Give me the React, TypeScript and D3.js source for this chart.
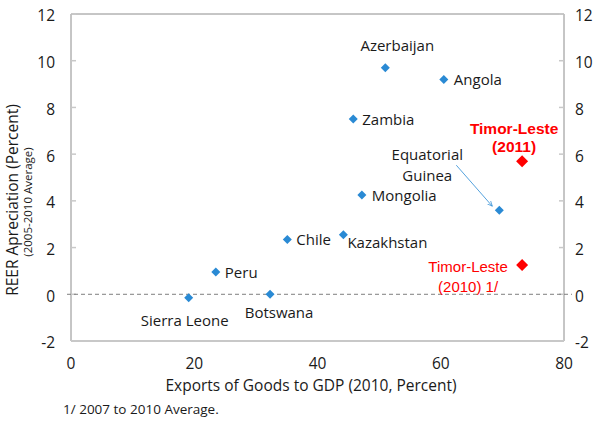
import React from "react";
import * as d3 from "d3";

const countries = ["Azerbaijan", "Angola", "Zambia", "Mongolia", "Equatorial Guinea", "Kazakhstan", "Chile", "Peru", "Sierra Leone", "Botswana"];
const exportsGdp = [51.0, 60.5, 45.8, 47.2, 69.5, 44.2, 35.1, 23.5, 19.1, 32.3];
const reerAppr = [9.7, 9.2, 7.5, 4.25, 3.6, 2.55, 2.35, 0.95, -0.15, 0.0];

const timorX = [73.2, 73.2];
const timorY = [5.7, 1.25];

const xTicks = [0, 20, 40, 60, 80];
const yTicks = [-2, 0, 2, 4, 6, 8, 10, 12];

const W = 595, H = 423;
const ML = 71, MR = 564, MT = 14, MB = 341;

const x = d3.scaleLinear().domain([0, 80]).range([ML, MR]);
const y = d3.scaleLinear().domain([-2, 12]).range([MB, MT]);

const diamond = (cx: number, cy: number, r: number) =>
  `M${cx},${cy - r}L${cx + r},${cy}L${cx},${cy + r}L${cx - r},${cy}Z`;

const labelPos: Record<string, [number, number, string]> = {
  Azerbaijan: [12, -17, "middle"],
  Angola: [10, 6, "start"],
  Zambia: [9, 6, "start"],
  Mongolia: [10, 6, "start"],
  Kazakhstan: [4, 13, "start"],
  Chile: [9, 6, "start"],
  Peru: [9, 6, "start"],
  "Sierra Leone": [-4, 28, "middle"],
  Botswana: [9, 24, "middle"],
};

const font = "'Open Sans', 'Noto Sans', sans-serif";
const arial = "'Liberation Sans', Arial, sans-serif";

export default function App() {
  const eqIdx = countries.indexOf("Equatorial Guinea");
  const eqX = x(exportsGdp[eqIdx]);
  const eqY = y(reerAppr[eqIdx]);
  return (
    <svg width={W} height={H} style={{ position: "absolute", left: 0, top: 0, background: "#fff" }} fontFamily={font}>
      <defs>
        <marker id="arr" viewBox="0 0 10 10" refX="9" refY="5" markerWidth="7" markerHeight="7" orient="auto">
          <path d="M0,1 L9,5 L0,9" fill="none" stroke="#2a8ad4" strokeWidth="1.2" />
        </marker>
      </defs>
      <line x1={ML} x2={ML} y1={MT} y2={MB} stroke="#8c8c8c" strokeWidth={1} />
      <line x1={MR} x2={MR} y1={MT} y2={MB} stroke="#8c8c8c" strokeWidth={1} />
      <line x1={ML} x2={MR} y1={MT} y2={MT} stroke="#8c8c8c" strokeWidth={1} />
      <line x1={ML} x2={MR} y1={MB} y2={MB} stroke="#c8c8c8" strokeWidth={2} />
      {yTicks.map((t) => (
        <g key={t}>
          <line x1={ML} x2={ML + 5} y1={y(t)} y2={y(t)} stroke="#c8c8c8" strokeWidth={1.5} />
          <line x1={MR - 5} x2={MR} y1={y(t)} y2={y(t)} stroke="#c8c8c8" strokeWidth={1.5} />
          <text x={55} y={y(t) + 2} dy="0.35em" textAnchor="end" fontSize={15.5} fill="#1a1a1a">{t}</text>
          <text x={575} y={y(t) + 2} dy="0.35em" textAnchor="start" fontSize={15.5} fill="#1a1a1a">{t}</text>
        </g>
      ))}
      {xTicks.map((t) => (
        <text key={t} x={x(t)} y={369} textAnchor="middle" fontSize={15.5} fill="#1a1a1a">{t}</text>
      ))}
      <line x1={ML - 4} x2={MR + 8} y1={y(0)} y2={y(0)} stroke="#7f7f7f" strokeWidth={1} strokeDasharray="4,3" />
      <text transform={`translate(18,200) rotate(-90)`} textAnchor="middle" fontSize={15.5} fill="#1a1a1a">REER Apreciation (Percent)</text>
      <text transform={`translate(32,202) rotate(-90)`} textAnchor="middle" fontSize={11.5} fill="#1a1a1a">(2005-2010 Average)</text>
      <text x={311} y={391} textAnchor="middle" fontSize={15.5} fill="#1a1a1a">Exports of Goods to GDP (2010, Percent)</text>
      <text x={63} y={414} fontSize={13.5} fill="#1a1a1a">1/ 2007 to 2010 Average.</text>
      {countries.map((c, i) => (
        <path key={c} d={diamond(x(exportsGdp[i]), y(reerAppr[i]), 4.5)} fill="#2a8ad4" />
      ))}
      {countries.map((c, i) => {
        const p = labelPos[c];
        if (!p) return null;
        return (
          <text key={c + "l"} x={x(exportsGdp[i]) + p[0]} y={y(reerAppr[i]) + p[1]} textAnchor={p[2] as any} fontSize={15} fill="#1a1a1a">{c}</text>
        );
      })}
      <text x={eqX - 72} y={eqY - 50} textAnchor="middle" fontSize={15} fill="#1a1a1a">Equatorial</text>
      <text x={eqX - 72} y={eqY - 29} textAnchor="middle" fontSize={15} fill="#1a1a1a">Guinea</text>
      <line x1={eqX - 43} x2={eqX - 7} y1={eqY - 45} y2={eqY - 4} stroke="#2a8ad4" strokeWidth={0.8} markerEnd="url(#arr)" />
      {timorX.map((tx, i) => (
        <path key={"t" + i} d={diamond(x(tx), y(timorY[i]), 6)} fill="#ff0000" />
      ))}
      <text x={x(timorX[0]) - 8} y={y(timorY[0]) - 27} textAnchor="middle" fontSize={15.5} fontWeight="bold" fill="#ff0000" fontFamily={arial}>Timor-Leste</text>
      <text x={x(timorX[0]) - 8} y={y(timorY[0]) - 9} textAnchor="middle" fontSize={15.5} fontWeight="bold" fill="#ff0000" fontFamily={arial}>(2011)</text>
      <text x={x(timorX[1]) - 54} y={y(timorY[1]) + 7} textAnchor="middle" fontSize={15} fill="#ff0000" fontFamily={arial}>Timor-Leste</text>
      <text x={x(timorX[1]) - 54} y={y(timorY[1]) + 27} textAnchor="middle" fontSize={15} fill="#ff0000" fontFamily={arial}>(2010) 1/</text>
    </svg>
  );
}
